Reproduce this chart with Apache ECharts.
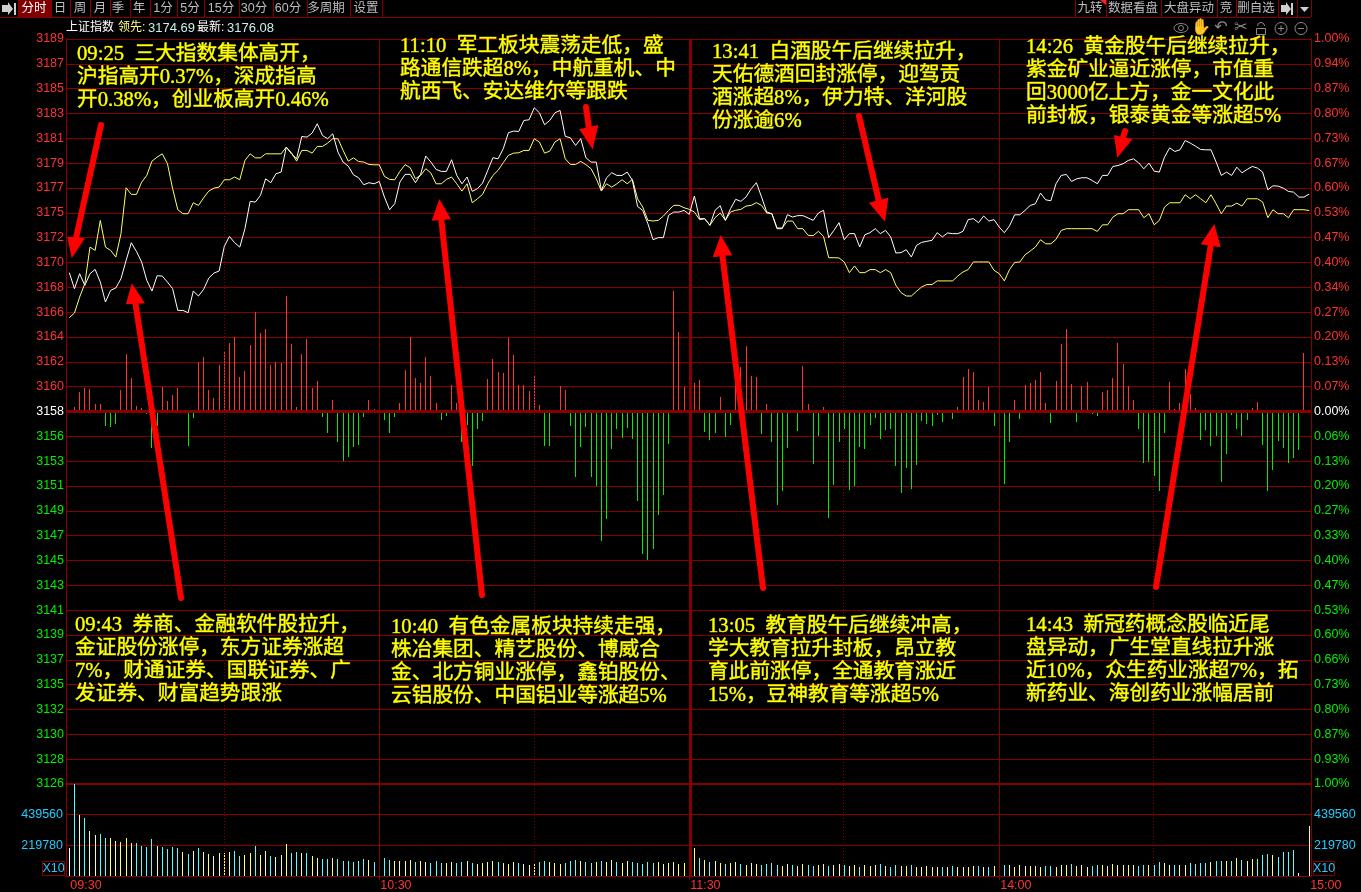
<!DOCTYPE html>
<html><head><meta charset="utf-8">
<style>html,body{margin:0;padding:0;background:#000}#c{width:1361px;height:892px}</style>
<script src="https://cdn.jsdelivr.net/npm/echarts@6/dist/echarts.min.js"></script>
</head><body><div id="c"></div>
<script>
// ---- tick labels
const priceLabels=[3189,3187,3185,3183,3181,3179,3177,3175,3172,3170,3168,3166,3164,3162,3160,3158,3156,3153,3151,3149,3147,3145,3143,3141,3139,3137,3135,3132,3130,3128,3126];
const pctLabels=['1.00%','0.94%','0.87%','0.80%','0.73%','0.67%','0.60%','0.53%','0.47%','0.40%','0.34%','0.27%','0.20%','0.13%','0.07%','0.00%','0.06%','0.13%','0.20%','0.27%','0.33%','0.40%','0.47%','0.53%','0.60%','0.66%','0.73%','0.80%','0.87%','0.93%','1.00%'];
const timeLabels={0:'09:30',60:'10:30',120:'11:30',180:'14:00',240:'15:00'};
const volumeLabels=['','219780','439560',''];
// ---- series: latest index (white), minute by minute from 09:30
const latest=[
3169.42,3168.06,3169.33,3168.34,3169.33,3169.70,3168.62,3166.93,3167.92,3168.12,3168.91,3170.46,3171.96,3171.22,3170.32,3168.77,3167.86,3169.16,3169.13,3168.62,
3168.06,3166.22,3166.22,3166.02,3167.86,3167.44,3168.00,3168.96,3169.39,3169.56,3171.65,3172.50,3171.96,3171.59,3173.15,3175.46,3175.41,3175.97,3177.38,3177.05,
3177.81,3177.95,3180.07,3179.50,3179.08,3180.97,3180.92,3181.26,3182.05,3181.06,3180.78,3181.20,3179.65,3178.80,3178.46,3177.72,3177.47,3176.88,3177.05,3176.96,
3177.16,3175.83,3174.76,3175.27,3177.11,3177.76,3177.76,3177.05,3177.76,3179.31,3178.80,3178.18,3178.01,3178.01,3179.00,3177.67,3176.96,3177.53,3176.32,3176.54,
3177.02,3178.10,3179.17,3179.08,3179.93,3181.29,3181.43,3181.40,3182.33,3182.39,3183.41,3182.98,3181.97,3182.33,3182.98,3183.18,3180.98,3180.86,3180.21,3180.78,
3179.17,3178.80,3178.80,3176.40,3177.47,3177.90,3177.67,3177.67,3177.95,3177.25,3175.04,3174.70,3173.57,3172.22,3172.39,3172.39,3174.28,3174.56,3174.56,3174.70,
3174.37,3175.92,3174.00,3174.00,3173.44,3174.71,3175.10,3173.86,3174.85,3175.64,3175.47,3175.84,3176.54,3177.05,3175.84,3174.57,3174.42,3173.15,3173.15,3174.34,
3174.14,3174.26,3174.26,3174.06,3173.86,3174.48,3174.71,3172.39,3173.01,3173.66,3172.22,3172.73,3172.73,3171.60,3172.64,3172.81,3173.15,3172.73,3173.01,3172.45,
3171.09,3171.12,3171.37,3170.75,3171.74,3171.99,3172.08,3172.16,3172.81,3172.45,3172.79,3172.73,3172.73,3172.93,3173.92,3174.00,3173.66,3174.23,3173.80,3173.92,
3173.29,3172.81,3173.38,3174.33,3174.33,3174.70,3175.12,3175.26,3176.17,3175.60,3175.52,3176.96,3177.67,3177.75,3177.16,3177.38,3177.47,3177.47,3177.24,3176.96,
3177.67,3177.67,3178.43,3178.51,3178.66,3178.94,3179.08,3178.74,3178.23,3178.71,3178.03,3177.95,3179.22,3180.01,3179.70,3179.84,3180.63,3180.41,3180.15,3179.87,
3179.84,3179.84,3178.80,3177.67,3177.95,3177.67,3178.37,3177.89,3178.18,3178.43,3178.29,3177.95,3176.45,3176.79,3176.76,3176.59,3176.31,3176.25,3175.83,3175.83,
3176.08];
// ---- series: leading index (yellow)
const leader=[
3165.60,3166.00,3167.35,3168.48,3171.59,3171.31,3173.85,3171.59,3171.31,3170.74,3172.72,3176.62,3176.06,3176.06,3177.10,3177.67,3178.88,3179.22,3179.50,3178.66,
3176.54,3174.76,3174.42,3174.42,3175.35,3175.12,3175.77,3176.34,3176.59,3176.68,3177.30,3177.30,3177.53,3177.30,3178.94,3179.50,3179.16,3179.16,3179.50,3179.50,
3179.50,3179.50,3180.07,3179.59,3178.88,3179.79,3179.79,3179.56,3180.13,3180.13,3180.41,3180.78,3180.78,3179.79,3178.88,3179.16,3178.85,3178.80,3178.60,3178.57,
3178.57,3177.59,3177.33,3177.30,3178.01,3178.58,3178.32,3177.39,3177.67,3178.24,3177.87,3176.96,3176.96,3177.33,3177.53,3176.96,3176.34,3176.96,3175.35,3175.69,
3176.06,3176.96,3177.67,3178.10,3178.75,3179.37,3179.56,3179.59,3179.79,3179.79,3180.78,3180.50,3179.56,3179.73,3180.50,3180.78,3179.08,3178.60,3178.60,3178.86,
3178.58,3178.24,3177.39,3176.34,3176.96,3176.68,3176.96,3177.30,3176.96,3177.33,3175.69,3174.99,3173.86,3173.80,3173.86,3174.22,3174.70,3175.13,3175.13,3174.93,
3174.79,3174.57,3173.92,3174.00,3173.44,3174.09,3174.48,3173.86,3174.57,3174.71,3174.79,3175.07,3175.13,3175.36,3175.13,3174.48,3174.42,3173.21,3173.21,3173.80,
3173.80,3173.15,3173.15,3172.59,3172.56,3172.93,3172.50,3170.69,3170.69,3170.67,3170.33,3169.42,3169.99,3169.42,3169.42,3169.68,3169.68,3169.42,3169.68,3169.42,
3168.35,3167.73,3167.44,3167.44,3167.84,3168.21,3168.41,3168.41,3168.72,3168.72,3168.72,3168.72,3169.14,3169.48,3169.68,3170.33,3170.33,3170.33,3170.33,3169.62,
3169.34,3168.72,3169.68,3170.29,3170.32,3170.94,3171.25,3171.59,3172.21,3171.87,3171.87,3172.24,3173.00,3173.15,3173.15,3173.15,3173.15,3173.15,3173.15,3172.92,
3173.48,3173.48,3174.13,3174.42,3174.42,3174.76,3174.76,3174.76,3174.08,3174.42,3173.48,3173.85,3174.98,3175.35,3175.35,3175.35,3176.03,3175.69,3176.03,3175.69,
3175.35,3176.03,3175.26,3174.42,3175.07,3175.07,3175.32,3175.07,3175.69,3175.69,3175.69,3175.41,3174.08,3174.76,3174.42,3174.42,3174.08,3174.76,3174.76,3174.76,
3174.69];
// ---- series: red/green strength bars (unlabelled quantity)
const strength=[
0,5,20,23.5,22.5,8,7.5,-14.5,-15,-12.5,21.5,58,34,5.5,3.5,-2.5,-36,-14.5,24.5,10.5,
16.5,23.5,-0.5,-34,-6.5,50,54.5,21.5,13.5,46.5,59.5,68.5,74.5,34.5,40.5,66.5,99.5,78.5,82.5,46.5,
49.5,48.5,115.5,67.5,4.5,57.5,72.5,23.5,30.5,-5.5,-21.5,11.5,-30.5,-49.5,-45.5,-35.5,-33.5,-5.5,11.5,2.5,
3.5,-8.5,-21.5,-5.5,8.5,41.5,74.5,33.5,28.5,54.5,35.5,8.5,-8.5,-4.5,26.5,8.5,-30.5,-13.5,-54.5,-17.5,
-9.5,32.5,52.5,39.5,38.5,73.5,56.5,26.5,26.5,20.5,35.5,6.5,-34.5,-34.5,1,25.5,21.5,-14.5,-65.5,-35.5,
-15.5,-65.5,-74.5,-129.5,-107.5,-37.5,-17.5,-26.5,-16.5,-27.5,-89.5,-142.5,-148.5,-137.5,-103.5,-83.5,-32.5,120.5,79.5,24.5,
0,28.5,31.5,-20.5,-28.5,-21.5,14.5,-25.5,-13.5,36.5,44.5,65.5,35.5,34.5,-22.5,7.5,-30.5,-93.5,-79.5,-36.5,
-1.5,-19.5,45.5,7.5,-52.5,-24.5,4.5,-106.5,-73.5,-30.5,-17.5,-78.5,-74.5,-35.5,-37.5,-13.5,-6.5,-27.5,-18.5,-17.5,
-54.5,-81.5,-56.5,-77.5,-53.5,-9.5,-12.5,-14.5,-3.5,-10.5,-0.5,-7.5,4.5,34.5,42.5,39.5,11.5,9.5,24.5,-14.5,
-23.5,-72.5,-30.5,11.5,-7.5,26.5,28.5,31.5,39.5,8.5,-11.5,30.5,67.5,82.5,27.5,-10.5,25.5,29.5,-2.5,-4.5,
19.5,21.5,33.5,68.5,47.5,25.5,11.5,-17.5,-51.5,-50.5,-64.5,-79.5,-21.5,29.5,2.5,8.5,42.5,17.5,3.5,-28.5,
-18.5,-34.5,-24.5,-70.5,-42.5,-3.5,-17.5,-24.5,-8.5,3.5,9.5,-33.5,-79.5,-58.5,-29.5,-36.5,-51.5,-46.5,-38.5,58.5,
0];
// ---- series: volume, counted in lots of 7167
const VOLUME_LOT=7167;
const volumeLots=[
28,92,61,58,45,41,42,38,38,35,34,38,33,33,30,29,37,30,29,27,
29,28,24,22,25,28,24,22,20,23,23,24,25,20,21,23,30,21,25,20,
19,21,32,23,24,23,23,20,18,17,17,18,17,15,15,14,15,17,16,14,
14,18,16,15,15,15,16,14,15,14,13,15,13,13,14,13,14,15,13,12,
13,14,15,14,13,12,14,13,12,11,13,14,15,14,13,12,13,15,16,15,
14,13,14,15,14,16,14,13,15,14,13,12,14,13,14,12,13,14,12,13,
11,28,18,16,14,15,13,12,13,14,12,11,13,12,11,12,13,11,10,12,
11,10,12,11,10,11,12,10,11,12,11,10,11,9,11,10,11,12,10,9,
11,10,10,11,9,9,10,9,9,9,9,10,9,9,9,10,10,9,9,10,
10,11,11,9,11,10,10,10,9,10,10,9,11,11,12,10,11,9,10,11,
11,10,12,11,11,11,11,10,11,11,11,14,13,11,11,11,11,13,12,13,
13,14,15,15,15,15,18,16,15,17,17,21,22,21,19,24,24,26,3,0,
50];

const GRID='#870000',RED='#ff3333',GREEN='#00ee00',CYAN='#22ccff',YEL='#ffff66';
const PRICE_STEP=2.1065, PRICE_MIN=1484*PRICE_STEP, PRICE_MAX=1514*PRICE_STEP;
const tickOf=v=>Math.round((v-PRICE_MIN)/PRICE_STEP);
const pctSteps=30;

const notes=[
 [77,43,'09:25  三大指数集体高开，\n沪指高开0.37%，深成指高\n开0.38%，创业板高开0.46%'],
 [400,35,'11:10  军工板块震荡走低，盛\n路通信跌超8%，中航重机、中\n航西飞、安达维尔等跟跌'],
 [712,41,'13:41  白酒股午后继续拉升，\n天佑德酒回封涨停，迎驾贡\n酒涨超8%，伊力特、洋河股\n份涨逾6%'],
 [1026,36,'14:26  黄金股午后继续拉升，\n紫金矿业逼近涨停，市值重\n回3000亿上方，金一文化此\n前封板，银泰黄金等涨超5%'],
 [75,614,'09:43  券商、金融软件股拉升，\n金证股份涨停，东方证券涨超\n7%，财通证券、国联证券、广\n发证券、财富趋势跟涨'],
 [391,616,'10:40  有色金属板块持续走强，\n株冶集团、精艺股份、博威合\n金、北方铜业涨停，鑫铂股份、\n云铝股份、中国铝业等涨超5%'],
 [708,615,'13:05  教育股午后继续冲高，\n学大教育拉升封板，昂立教\n育此前涨停，全通教育涨近\n15%，豆神教育等涨超5%'],
 [1026,614,'14:43  新冠药概念股临近尾\n盘异动，广生堂直线拉升涨\n近10%，众生药业涨超7%，拓\n新药业、海创药业涨幅居前']
];
const arrows=[
 [101,125,71.7,258.3,67.3,236.7,85,238.3],
 [181,598,131.7,283.3,126,304.3,145,303.3],
 [482,595,439.3,199,431.7,220.7,451,219.3],
 [586,107,592.7,149.3,579.3,129.3,598.3,125],
 [763,588,720.7,235,712.7,257.3,732.3,255],
 [859,116,885,221.7,869,202.7,888.3,197.7],
 [1125,131,1117.3,157.7,1114,135,1132.3,139.3],
 [1156,587,1214.3,224,1200.7,244.3,1220.7,247.3]
];
const leftTabs=[['分时',34],['日',60],['周',80],['月',100],['季',118],['年',139],['1分',163],['5分',190],['15分',221],['30分',254],['60分',288],['多周期',326],['设置',366]];
const leftSeps=[18,51,70,90,110,130,150,177,204,239,273,307,350,382];
const rightTabs=[['九转',1090],['数据看盘',1133],['大盘异动',1189],['竞',1226],['删自选',1256]];
const rightSeps=[1075,1106,1161,1217,1236,1278,1297,1311];

const g=[];
const hline=(x1,x2,y,c,w)=>g.push({type:'line',shape:{x1,y1:y,x2,y2:y},style:{stroke:c||GRID,lineWidth:w||1},silent:true,z:50});
const vline=(x,y1,y2)=>g.push({type:'line',shape:{x1:x,y1,x2:x,y2},style:{stroke:GRID,lineWidth:1},silent:true,z:50});
const txt=(x,y,t,fill,size,fam,align)=>g.push({type:'text',x,y,silent:true,z:60,style:{text:t,fill,fontSize:size||14,fontFamily:fam||'"Liberation Sans","Noto Sans CJK SC"',textAlign:align||'left',textVerticalAlign:'middle'}});
hline(0,1311,17.5);
g.push({type:'rect',shape:{x:18,y:0,width:33,height:17},style:{fill:'#800000'},silent:true,z:49});
leftSeps.forEach(x=>vline(x+.5,0,17));
rightSeps.forEach(x=>vline(x+.5,0,17));
leftTabs.forEach(([t,x],i)=>txt(x,9,t,i===0?'#ffffff':'#bdbdbd',12.5,null,'center'));
rightTabs.forEach(([t,x])=>txt(x,9,t,'#bdbdbd',12.5,null,'center'));
g.push({type:'polygon',shape:{points:[[2,5],[8,5],[8,2],[13,9],[8,15],[8,12],[2,12]]},style:{fill:'#cfcfcf'},silent:true,z:60});
g.push({type:'rect',shape:{x:14,y:3,width:2,height:12},style:{fill:'#cfcfcf'},silent:true,z:60});
g.push({type:'polygon',shape:{points:[[1281,5],[1286,5],[1286,2],[1291,9],[1286,15],[1286,12],[1281,12]]},style:{fill:'#cfcfcf'},silent:true,z:60});
g.push({type:'rect',shape:{x:1291,y:3,width:2,height:12},style:{fill:'#cfcfcf'},silent:true,z:60});
g.push({type:'polygon',shape:{points:[[1300,7],[1309,7],[1304.5,12]]},style:{fill:'#cfcfcf'},silent:true,z:60});
g.push({type:'polygon',shape:{points:[[1100,0],[1106,0],[1106,5]]},style:{fill:'#ff2020'},silent:true,z:60});
txt(66,28,'上证指数','#ffffff',12);
txt(118,28,'领先:','#ffff80',12);
txt(148,28,'3174.69','#c8f0f0',13);
txt(197,28,'最新:','#ffffff',12);
txt(227,28,'3176.08','#c8f0f0',13);
// small tool icons
const ico='#8a8a8a';
g.push({type:'ellipse',shape:{cx:1181,cy:28,rx:7,ry:4.5},style:{fill:'none',stroke:ico,lineWidth:1},silent:true,z:60});
g.push({type:'circle',shape:{cx:1181,cy:28,r:2.5},style:{fill:'none',stroke:ico,lineWidth:1},silent:true,z:60});
txt(1201,28,'✋',ico,16,'DejaVu Sans','center');
txt(1221,28,'↶',ico,16,'DejaVu Sans','center');
txt(1241,28,'✂',ico,16,'DejaVu Sans','center');
g.push({type:'rect',shape:{x:1256.5,y:28.5,width:9,height:6},style:{fill:'none',stroke:ico,lineWidth:1},silent:true,z:60});
g.push({type:'arc',shape:{cx:1261,cy:26,r:3.5,startAngle:Math.PI,endAngle:0,clockwise:true},style:{fill:'none',stroke:ico,lineWidth:1},silent:true,z:60});
[1281,1301].forEach((x,i)=>{
 g.push({type:'circle',shape:{cx:x,cy:28.5,r:6},style:{fill:'none',stroke:ico,lineWidth:1},silent:true,z:60});
 hline(x-3,x+3,28.5,ico,1);
 if(i===0) g.push({type:'line',shape:{x1:x,y1:25.5,x2:x,y2:31.5},style:{stroke:ico,lineWidth:1},silent:true,z:60});
});
// x10 boxes
[[42,22],[1313,21]].forEach(([x,w],i)=>{
 g.push({type:'rect',shape:{x:x+.5,y:861.5,width:w,height:14},style:{fill:'none',stroke:GRID,lineWidth:1},silent:true,z:60});
 txt(x+w/2+.5,868.5,'X10',CYAN,12.5,null,'center');
});
// annotations
notes.forEach(([x,y,t])=>g.push({type:'text',x,y,silent:true,z:90,style:{text:t,fill:'#ffff00',stroke:'#d0d000',lineWidth:0.5,fontSize:20.7,lineHeight:23,fontFamily:'"Liberation Serif","Noto Sans CJK SC"',textVerticalAlign:'top'}}));
// arrows
arrows.forEach(a=>{
 const mx=(a[4]+a[6])/2,my=(a[5]+a[7])/2;
 g.push({type:'line',shape:{x1:a[0],y1:a[1],x2:mx,y2:my},style:{stroke:'#ff0000',lineWidth:6,lineCap:'round'},silent:true,z:80});
 g.push({type:'polygon',shape:{points:[[a[2],a[3]],[a[4],a[5]],[a[6],a[7]]]},style:{fill:'#ff0000'},silent:true,z:80});
});

const idx=a=>a.map((v,i)=>[i,v]);
const vline2=(list,w,type)=>list.map(x=>({xAxis:x,lineStyle:{color:GRID,width:w,type}}));
const vMark=()=>({symbol:'none',silent:true,label:{show:false},animation:false,precision:4,
  data:[...vline2([30.04,90.05,149.86,209.87],1,[1,2]),...vline2([60.04,180.06],1,'solid'),...vline2([120.15],3,'solid')]});
const sharedX={type:'value',min:-0.64,max:240.36,splitLine:{show:false}};
// one crisp pixel-wide stick per minute, placed by the axes
const stick=colorOf=>(params,api)=>{
  const v=api.value(1);
  if(!v) return null;
  const a=api.coord([api.value(0),0]),b=api.coord([api.value(0),v]);
  const x=Math.floor(a[0])+.5;
  const y0=Math.round(a[1]),y1=Math.round(b[1]);
  return {type:'line',shape:{x1:x,y1:y0,x2:x,y2:y1},style:{stroke:colorOf(params.dataIndex,v),lineWidth:1},silent:true};
};

const option={
 backgroundColor:'#000',animation:false,
 grid:[{left:66,right:50,top:39,height:745,containLabel:false},{left:66,right:50,top:784,height:92,containLabel:false}],
 xAxis:[
  {...sharedX,gridIndex:0,position:'bottom',axisLine:{onZero:false,lineStyle:{color:GRID,width:2}},axisTick:{show:false},axisLabel:{show:false}},
  {...sharedX,gridIndex:1,position:'bottom',axisLine:{onZero:false,lineStyle:{color:GRID,width:1}},
   axisTick:{show:true,length:4,lineStyle:{color:GRID},customValues:[60,120,180]},
   axisLabel:{show:true,color:RED,fontSize:12.5,fontFamily:'Liberation Sans',align:'left',margin:3,padding:[0,0,0,1],customValues:[0,60,120,180,240],hideOverlap:false,showMinLabel:true,showMaxLabel:true,formatter:v=>timeLabels[Math.round(v)]||''}}
 ],
 yAxis:[
  {type:'value',gridIndex:0,position:'left',min:PRICE_MIN,max:PRICE_MAX,interval:PRICE_STEP,
   axisLine:{show:true,onZero:false,lineStyle:{color:GRID}},axisTick:{show:false},splitLine:{show:true,lineStyle:{color:GRID,width:1}},
   axisLabel:{margin:2,fontSize:12.5,fontFamily:'Liberation Sans',showMinLabel:true,showMaxLabel:true,hideOverlap:false,
    formatter:v=>String(priceLabels[30-tickOf(v)]),
    color:v=>{const k=tickOf(v);return k>15?RED:(k===15?'#ffffff':GREEN);}}},
  {type:'value',gridIndex:0,position:'right',min:PRICE_MIN,max:PRICE_MAX,interval:PRICE_STEP,
   axisLine:{show:true,onZero:false,lineStyle:{color:GRID}},axisTick:{show:false},splitLine:{show:false},
   axisLabel:{margin:3,fontSize:12.5,fontFamily:'Liberation Sans',showMinLabel:true,showMaxLabel:true,hideOverlap:false,
    formatter:v=>pctLabels[pctSteps-tickOf(v)],
    color:v=>{const k=tickOf(v);return k>15?RED:(k===15?'#ffffff':GREEN);}}},
  {type:'value',gridIndex:0,show:false,min:-372.5,max:372.5,splitLine:{show:false}},
  {type:'value',gridIndex:1,position:'left',min:0,max:3*219780,interval:219780,
   axisLine:{show:true,onZero:false,lineStyle:{color:GRID}},axisTick:{show:false},splitLine:{show:true,lineStyle:{color:GRID}},
   axisLabel:{margin:3,color:CYAN,fontSize:12.5,fontFamily:'Liberation Sans',hideOverlap:false,formatter:v=>volumeLabels[Math.round(v/219780)]}},
  {type:'value',gridIndex:1,position:'right',min:0,max:3*219780,interval:219780,
   axisLine:{show:true,onZero:false,lineStyle:{color:GRID}},axisTick:{show:false},splitLine:{show:false},
   axisLabel:{margin:3,color:CYAN,fontSize:12.5,fontFamily:'Liberation Sans',hideOverlap:false,formatter:v=>volumeLabels[Math.round(v/219780)]}}
 ],
 series:[
  {name:'guides',type:'line',xAxisIndex:0,yAxisIndex:0,data:[],z:1,silent:true,markLine:vMark()},
  {name:'guides2',type:'line',xAxisIndex:1,yAxisIndex:3,data:[],z:1,silent:true,markLine:vMark()},
  {name:'strength',type:'custom',xAxisIndex:0,yAxisIndex:2,data:idx(strength),z:3,silent:true,clip:false,encode:{x:0,y:1},
   renderItem:stick((i,v)=>v>=0?RED:GREEN)},
  {name:'zero',type:'line',xAxisIndex:0,yAxisIndex:2,data:[],z:4,silent:true,
   markLine:{symbol:'none',silent:true,label:{show:false},animation:false,data:[{yAxis:0,lineStyle:{color:GRID,width:3,type:'solid'}}]}},
  {name:'leader',type:'line',xAxisIndex:0,yAxisIndex:0,data:idx(leader),showSymbol:false,z:5,silent:true,lineStyle:{color:YEL,width:1}},
  {name:'latest',type:'line',xAxisIndex:0,yAxisIndex:0,data:idx(latest),showSymbol:false,z:6,silent:true,lineStyle:{color:'#ffffff',width:1}},
  {name:'volume',type:'custom',xAxisIndex:1,yAxisIndex:3,data:idx(volumeLots.map(n=>n*VOLUME_LOT)),z:3,silent:true,clip:false,encode:{x:0,y:1},
   renderItem:stick(i=>{if(i===0||i===238)return '#ffffff';return latest[i]>=latest[i-1]?'#ffff80':'#55ffff';})}
 ],
 graphic:{elements:g}
};
echarts.init(document.getElementById('c')).setOption(option);
</script></body></html>
